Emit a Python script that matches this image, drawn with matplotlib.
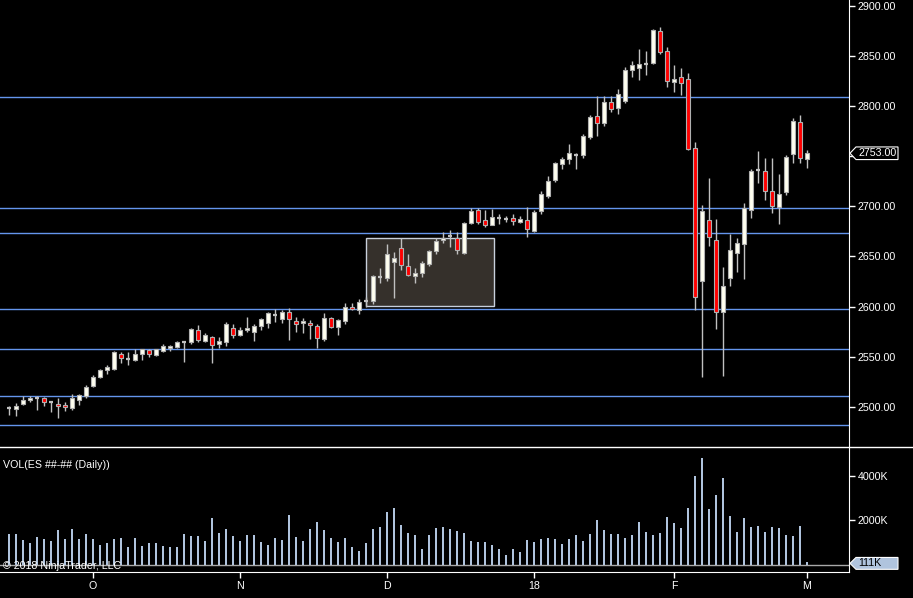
import numpy as np
import matplotlib
matplotlib.use('Agg')
import matplotlib.pyplot as plt
from matplotlib.patches import Polygon, Rectangle
from matplotlib.lines import Line2D

plt.rcParams['font.family'] = ['Liberation Sans', 'DejaVu Sans']

# daily ES bars, Sep 2017 - Mar 2018
opens = [2498.0, 2497.75, 2502.75, 2506.5, 2508.25, 2508.5, 2504.5, 2502.75, 2501.75, 2498.5,
         2506.5, 2511.0, 2521.0, 2530.0, 2536.5, 2538.0, 2552.75, 2547.0, 2546.5, 2552.5,
         2556.25, 2551.5, 2555.5, 2558.25, 2559.5, 2564.25, 2564.25, 2577.0, 2565.5, 2569.25,
         2562.5, 2564.5, 2579.0, 2571.5, 2576.5, 2574.5, 2580.5, 2583.25, 2591.5, 2587.5,
         2595.0, 2586.0, 2583.5, 2584.0, 2581.0, 2567.5, 2588.25, 2579.5, 2585.5, 2600.0,
         2596.5, 2605.25, 2605.5, 2628.75, 2628.5, 2644.0, 2658.0, 2640.0, 2630.5, 2633.5,
         2642.5, 2655.75, 2666.75, 2669.5, 2668.75, 2653.75, 2683.5, 2696.5, 2686.0, 2681.75,
         2687.5, 2688.0, 2688.0, 2684.75, 2686.0, 2675.75, 2695.0, 2710.75, 2726.0, 2742.0,
         2747.25, 2750.75, 2751.0, 2769.0, 2790.5, 2783.5, 2804.5, 2798.5, 2805.0, 2836.25,
         2838.25, 2842.0, 2843.25, 2875.5, 2855.0, 2824.25, 2829.5, 2827.5, 2758.25, 2625.0,
         2686.0, 2666.0, 2595.0, 2628.75, 2653.75, 2662.75, 2696.25, 2735.75, 2735.25, 2715.25,
         2699.25, 2714.0, 2752.25, 2784.5, 2747.0]
highs = [2500.5, 2503.75, 2510.5, 2510.5, 2510.5, 2509.75, 2505.25, 2509.0, 2504.5, 2512.75,
         2512.5, 2522.0, 2532.0, 2537.75, 2541.75, 2555.25, 2554.5, 2554.5, 2557.25, 2557.75,
         2557.25, 2557.75, 2562.25, 2561.75, 2565.5, 2565.25, 2578.5, 2581.25, 2574.0, 2570.25,
         2569.25, 2585.0, 2582.5, 2579.25, 2589.5, 2582.25, 2589.0, 2594.5, 2597.25, 2596.25,
         2598.25, 2590.0, 2589.0, 2586.25, 2583.0, 2593.25, 2590.0, 2588.0, 2604.0, 2604.0,
         2607.25, 2609.0, 2631.25, 2638.25, 2662.5, 2654.0, 2668.5, 2652.25, 2638.0, 2645.25,
         2656.25, 2668.0, 2674.0, 2676.0, 2674.0, 2684.75, 2698.5, 2698.75, 2696.5, 2697.5,
         2692.5, 2690.0, 2692.5, 2690.0, 2699.0, 2696.75, 2715.25, 2730.25, 2744.25, 2749.5,
         2761.75, 2753.25, 2771.75, 2791.5, 2809.75, 2810.5, 2810.5, 2816.75, 2839.5, 2845.5,
         2857.0, 2855.25, 2877.0, 2879.5, 2859.0, 2841.0, 2838.5, 2833.0, 2764.5, 2701.5,
         2728.5, 2687.5, 2639.5, 2672.5, 2668.0, 2703.25, 2737.5, 2755.75, 2748.5, 2748.5,
         2732.5, 2751.5, 2787.75, 2790.75, 2756.0]
lows = [2491.25, 2490.25, 2501.75, 2504.5, 2497.0, 2500.5, 2495.0, 2488.25, 2495.25, 2496.25,
        2502.0, 2508.5, 2519.75, 2528.5, 2532.5, 2537.0, 2543.75, 2542.0, 2546.0, 2547.0,
        2549.5, 2550.5, 2554.75, 2555.25, 2558.75, 2545.0, 2562.5, 2564.5, 2565.0, 2544.0,
        2558.25, 2560.5, 2568.5, 2570.5, 2574.5, 2565.25, 2576.5, 2578.25, 2584.5, 2583.25,
        2566.5, 2574.5, 2573.25, 2567.25, 2558.5, 2565.5, 2578.25, 2571.5, 2582.25, 2596.5,
        2592.25, 2600.0, 2602.25, 2623.25, 2625.5, 2608.5, 2636.5, 2630.0, 2623.25, 2629.5,
        2640.5, 2652.25, 2663.5, 2659.75, 2652.25, 2652.25, 2682.5, 2682.75, 2679.75, 2681.5,
        2682.75, 2684.0, 2681.75, 2683.75, 2669.0, 2674.0, 2692.75, 2708.75, 2724.5, 2737.0,
        2742.5, 2737.0, 2748.0, 2767.0, 2770.0, 2780.5, 2794.0, 2792.0, 2803.0, 2829.25,
        2826.25, 2831.25, 2842.25, 2852.25, 2818.75, 2814.0, 2810.75, 2756.0, 2596.5, 2529.5,
        2660.75, 2577.25, 2530.5, 2620.5, 2634.75, 2627.25, 2688.75, 2723.0, 2706.5, 2693.75,
        2682.75, 2711.0, 2743.0, 2743.0, 2738.5]
closes = [2498.5, 2500.75, 2506.75, 2509.0, 2508.5, 2504.75, 2504.5, 2500.75, 2499.75, 2508.75,
          2511.75, 2519.75, 2529.75, 2537.0, 2539.75, 2554.25, 2548.5, 2547.25, 2552.25, 2557.25,
          2552.75, 2557.25, 2560.25, 2560.75, 2564.25, 2564.5, 2578.0, 2566.5, 2571.25, 2561.5,
          2565.25, 2582.25, 2571.5, 2577.0, 2579.0, 2581.0, 2587.25, 2593.25, 2591.75, 2595.0,
          2587.5, 2582.5, 2586.0, 2581.5, 2568.5, 2589.0, 2579.5, 2586.25, 2600.0, 2598.0,
          2605.0, 2605.75, 2630.0, 2629.0, 2652.0, 2648.0, 2641.5, 2631.5, 2633.0, 2643.25,
          2655.25, 2665.0, 2668.75, 2670.0, 2656.75, 2683.5, 2695.5, 2684.75, 2681.75, 2689.5,
          2688.0, 2687.5, 2685.75, 2687.0, 2677.0, 2694.5, 2712.25, 2725.25, 2743.25, 2747.25,
          2753.25, 2751.25, 2770.25, 2789.5, 2783.5, 2804.5, 2797.5, 2812.5, 2836.5, 2841.0,
          2842.0, 2842.5, 2876.0, 2854.25, 2825.5, 2826.75, 2823.5, 2757.0, 2609.0, 2695.25,
          2669.0, 2595.0, 2620.0, 2656.0, 2663.0, 2698.5, 2735.5, 2736.0, 2715.25, 2700.25,
          2712.25, 2749.25, 2785.5, 2748.0, 2753.0]
# volume in thousands of contracts
volumes = [1379, 1379, 1106, 970, 1242, 1151, 1060, 1560, 1151, 1606,
           1151, 1379, 1151, 879, 970, 1151, 1197, 788, 1197, 833,
           970, 970, 833, 788, 788, 1379, 1288, 1288, 1060, 2106,
           1424, 1606, 1288, 1060, 1333, 1333, 1015, 879, 1197, 1106,
           2242, 1242, 1060, 1606, 1924, 1560, 1197, 1015, 1197, 788,
           606, 970, 1606, 1697, 2379, 2560, 1788, 1424, 1333, 697,
           1333, 1651, 1697, 1606, 1515, 1424, 1060, 1015, 1015, 879,
           697, 424, 697, 561, 1106, 1015, 1151, 1197, 1151, 924,
           1151, 1333, 1060, 1379, 2015, 1560, 1379, 1379, 1197, 1333,
           1924, 1470, 1333, 1424, 2151, 1879, 1651, 2560, 4015, 4833,
           2515, 3151, 3924, 2197, 1470, 2106, 1697, 1742, 1470, 1697,
           1651, 1333, 1288, 1742, 111]

# month ticks (bar index of first session of each month)
month_pos = [12, 33, 54, 75, 95, 114]
month_labels = ['O', 'N', 'D', '18', 'F', 'M']

# horizontal levels drawn on the chart
levels = [2808.9, 2698.0, 2673.1, 2597.2, 2557.6, 2510.7, 2481.4]

W, H = 913, 598
fig = plt.figure(figsize=(W / 100, H / 100), dpi=100, facecolor='black')

axp = fig.add_axes([0, 1 - 447 / H, 849 / W, 447 / H], facecolor='black')
axv = fig.add_axes([0, 1 - 571.7 / H, 849 / W, 123.7 / H], facecolor='black')

x = np.arange(len(closes))
o = np.array(opens)
c = np.array(closes)
wick = '#c0c0c0'

for lv in levels:
    axp.axhline(lv, color='#6495ed', lw=1, zorder=1)

# highlighted consolidation box
axp.add_patch(Rectangle((51.04, 2600.2), 18.2, 67.9, facecolor='#35302b',
                        edgecolor='#c8d0dc', lw=1, zorder=2))

axp.vlines(x, lows, highs, color=wick, lw=1, zorder=3)
body = np.abs(c - o)
doji = body < 1.0
up = c >= o
cols = np.where(up, '#fffff0', '#ff0000')
bw = 0.62
axp.bar(x[~doji], body[~doji], bottom=np.minimum(o, c)[~doji], width=bw,
        color=cols[~doji], edgecolor='#b0b0b0', lw=0.8, zorder=4)
axp.hlines(c[doji], x[doji] - bw / 2, x[doji] + bw / 2, color=wick, lw=1.6, zorder=4)

axp.set_xlim(-1.29, 120)
axp.set_ylim(2459.75, 2906)
pticks = np.arange(2500, 2901, 50)
axp.set_yticks(pticks)
# the 2750 label sits under the last-price marker
axp.set_yticklabels(['' if v == 2750 else f'{v:.2f}' for v in pticks])
axp.yaxis.tick_right()
axp.set_xticks([])
for s in ['left', 'top', 'bottom']:
    axp.spines[s].set_visible(False)
axp.spines['right'].set_color('white')
axp.tick_params(axis='y', colors='white', length=4.5, width=1, pad=1.5, labelsize=7.7)

# last price marker
def marker(ax, yv, half, text, face, tcol):
    tr = ax.get_yaxis_transform()
    w = 849.0
    pts = [(1 + 1 / w, yv), (1 + 7 / w, yv + half), (1 + 49 / w, yv + half),
           (1 + 49 / w, yv - half), (1 + 7 / w, yv - half)]
    ax.add_patch(Polygon(pts, closed=True, transform=tr, facecolor=face,
                         edgecolor='white', lw=0.8, clip_on=False, zorder=10))
    ax.text(1 + 9 / w, yv, text, transform=tr, color=tcol, fontsize=7.7,
            va='center', ha='left', clip_on=False, zorder=11)

marker(axp, 2753.0, 6.3, '2753.00', 'black', 'white')

# volume panel
axv.bar(x, volumes, width=0.3, color='#b0c4de', zorder=3)
axv.axhline(0, color='#a8a8a8', lw=1, zorder=2)
axv.set_xlim(-1.29, 120)
axv.set_ylim(-327, 5295)
axv.set_yticks([2000, 4000])
axv.set_yticklabels(['2000K', '4000K'])
axv.yaxis.tick_right()
axv.set_xticks(month_pos)
axv.set_xticklabels(month_labels)
for s in ['left', 'top']:
    axv.spines[s].set_visible(False)
axv.spines['right'].set_color('white')
axv.spines['bottom'].set_color('white')
axv.tick_params(axis='both', colors='white', length=4.5, width=1, pad=1.5, labelsize=7.7)
axv.tick_params(axis='x', pad=2)
marker(axv, 111 - 60, 270, '111K', '#b0c4de', 'black')

axv.text(0.004, 0.86, 'VOL(ES ##-## (Daily))', transform=axv.transAxes,
         color='white', fontsize=7.7, va='center', ha='left')
axv.text(0.003, 0.05, '\u00a9 2018 NinjaTrader, LLC', transform=axv.transAxes,
         color='white', fontsize=7.7, va='center', ha='left', zorder=5)

# separator between the panels
fig.add_artist(Line2D([0, 1], [1 - 447.3 / H, 1 - 447.3 / H], color='white', lw=1))

fig.savefig('out.png', dpi=100, facecolor='black')
